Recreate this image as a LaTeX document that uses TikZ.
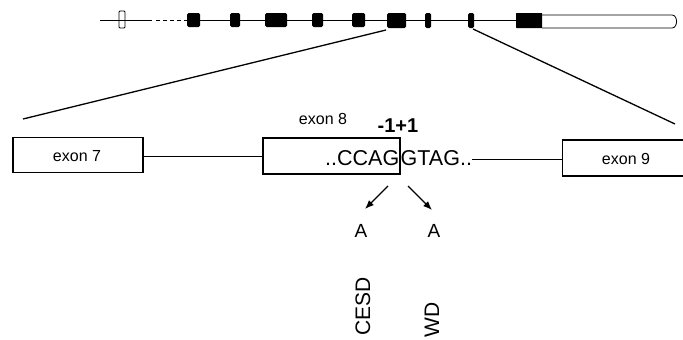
\documentclass[tikz,border=0pt]{standalone}
\usepackage{fontspec}
\setmainfont{Liberation Sans}
\usetikzlibrary{arrows.meta}
\begin{document}
\begin{tikzpicture}[x=1pt,y=-1pt,
  exonbox/.style={draw,line width=1.2pt,rectangle,inner sep=0pt},
  lbl/.style={inner sep=0pt,font=\fontsize{16}{18}\selectfont},
  seq/.style={inner sep=0pt,font=\fontsize{21.5}{24}\selectfont},
  blk/.style={fill=black,rounded corners=1.5pt},
  link/.style={line width=0.9pt},
  zoomline/.style={line width=1.3pt},
  arr/.style={line width=1.1pt,-{Latex[length=9pt,width=7pt]}}]
\useasboundingbox (0,0) rectangle (683,340);
\clip (0,0) rectangle (683,340);
% ---- gene overview ----
\draw[line width=0.8pt] (100,20) -- (152,20);
\draw[line width=0.6pt,dash pattern=on 4pt off 3pt] (156,20) -- (186,20);
\draw[line width=0.8pt] (186,20) -- (516,20);
\draw[line width=0.8pt,rounded corners=1pt] (119,11) rectangle (125,28);
\fill[blk] (187,13) rectangle (200,27);
\fill[blk] (230,13) rectangle (240,27);
\fill[blk] (265,13) rectangle (287,27);
\fill[blk] (312,13) rectangle (323,27);
\fill[blk] (352,13) rectangle (365,27);
\fill[blk] (387,13) rectangle (406,28);
\fill[blk] (425,13) rectangle (431,28);
\fill[blk] (468,13) rectangle (474,28);
\fill[blk,rounded corners=0.5pt] (516,13) rectangle (542,28);
\draw[line width=0.8pt] (542,15) -- (672,15) to[out=0,in=0,looseness=1.2] (672,28) -- (542,28);
\coordinate (zl) at (386,30);
\coordinate (zr) at (473,29);
% ---- exons ----
\node[exonbox,minimum width=130pt,minimum height=35pt] (e7) at (78,155) {};
\node[lbl] (e7t) at (77,156) {exon 7};
\node[exonbox,minimum width=137pt,minimum height=36pt] (e8) at (331.5,156) {};
\node[lbl] (e8t) at (323,119) {exon 8};
\node[exonbox,minimum width=160pt,minimum height=36pt,anchor=west] (e9) at (562,158) {};
\node[lbl] (e9t) at (626,159) {exon 9};
\coordinate (z7) at (23,119);
\coordinate (z9) at (675,124);
\draw[zoomline] (zl) -- (z7);
\draw[zoomline] (zr) -- (z9);
% sequence
\node[seq,anchor=base east] (sl) at (399.5,165) {..CCAG};
\node[seq,anchor=base west] (sr) at (400.5,165) {GTAG..};
\node[inner sep=0pt,anchor=base,font=\fontsize{20}{22}\selectfont\bfseries] (pos) at (398,132) {-1+1};
\draw[link] (e7.east |- 0,156) -- (e8.west |- 0,156);
\draw[link] (sr.east |- 0,159) -- (e9.west |- 0,159);
% mutations
\node[seq,font=\fontsize{19}{21}\selectfont] (a1) at (361,231) {A};
\node[seq,font=\fontsize{19}{21}\selectfont] (a2) at (434,231) {A};
\coordinate (s1) at (388,186);
\coordinate (s2) at (408,186);
\draw[arr] (s1) -- (365,209);
\draw[arr] (s2) -- (432,210);
\node[seq,rotate=90,anchor=west,font=\fontsize{21}{23}\selectfont] (cesd) at (363,336) {CESD};
\node[seq,rotate=90,anchor=west,font=\fontsize{21}{23}\selectfont] (wd) at (432,338) {WD};
\end{tikzpicture}
\end{document}
